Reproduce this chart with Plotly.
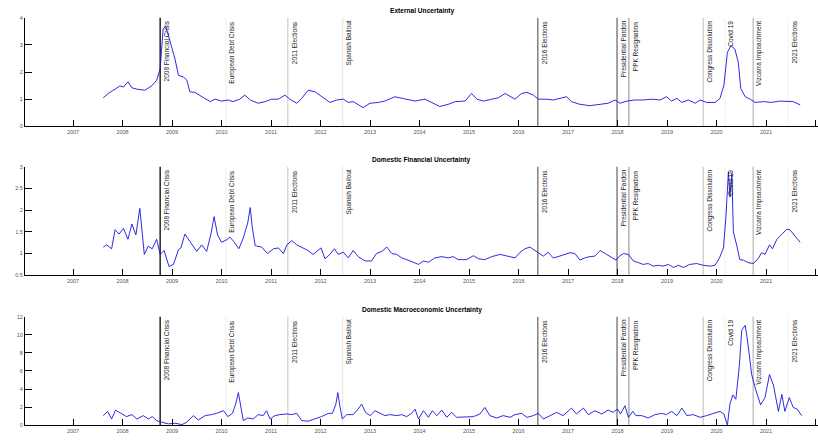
import plotly.graph_objects as go

# ---------------- data ----------------
ext_years = [2007.61, 2007.71, 2007.85, 2007.95, 2008.02, 2008.11, 2008.19, 2008.29, 2008.45, 2008.59,
             2008.69, 2008.76, 2008.82, 2008.87, 2008.93, 2008.99, 2009.06, 2009.13, 2009.23, 2009.30,
             2009.36, 2009.46, 2009.60, 2009.77, 2009.87, 2010.00, 2010.14, 2010.23, 2010.37, 2010.47,
             2010.58, 2010.74, 2010.88, 2011.01, 2011.15, 2011.28, 2011.38, 2011.52, 2011.62, 2011.75,
             2011.89, 2012.02, 2012.19, 2012.33, 2012.46, 2012.56, 2012.66, 2012.86, 2013.00, 2013.17,
             2013.30, 2013.50, 2013.71, 2013.91, 2014.11, 2014.25, 2014.41, 2014.58, 2014.72, 2014.92,
             2015.05, 2015.16, 2015.29, 2015.46, 2015.59, 2015.73, 2015.83, 2015.93, 2016.06, 2016.17,
             2016.30, 2016.40, 2016.57, 2016.70, 2016.84, 2016.97, 2017.07, 2017.24, 2017.44, 2017.65,
             2017.81, 2017.95, 2018.05, 2018.19, 2018.35, 2018.52, 2018.69, 2018.86, 2018.99, 2019.09,
             2019.20, 2019.30, 2019.43, 2019.57, 2019.67, 2019.80, 2019.97, 2020.07, 2020.15, 2020.22,
             2020.29, 2020.37, 2020.44, 2020.49, 2020.58, 2020.68, 2020.78, 2020.95, 2021.11, 2021.28,
             2021.45, 2021.55, 2021.69]
ext_vals = [1.05, 1.21, 1.37, 1.49, 1.45, 1.64, 1.42, 1.37, 1.33, 1.49,
            1.70, 2.12, 3.58, 3.70, 3.33, 2.91, 2.48, 1.88, 1.82, 1.70,
            1.27, 1.25, 1.09, 0.91, 1.00, 0.93, 0.97, 0.91, 1.00, 1.15,
            0.97, 0.85, 0.91, 1.00, 1.00, 1.15, 1.00, 0.85, 1.03, 1.33,
            1.27, 1.09, 0.88, 0.97, 1.00, 0.88, 0.91, 0.69, 0.85, 0.88,
            0.93, 1.09, 1.00, 0.93, 1.00, 0.88, 0.73, 0.81, 0.91, 0.93,
            1.21, 1.00, 0.93, 1.00, 1.05, 1.21, 1.09, 1.00, 1.21, 1.25,
            1.15, 1.00, 1.00, 0.97, 1.03, 1.09, 0.91, 0.81, 0.76, 0.81,
            0.85, 0.97, 0.85, 0.93, 0.97, 0.97, 1.00, 0.97, 1.09, 0.93,
            1.03, 0.88, 0.97, 0.85, 0.97, 0.88, 0.88, 1.03, 1.52, 2.73,
            2.97, 2.85, 2.36, 1.39, 1.09, 1.00, 0.88, 0.91, 0.88, 0.93,
            0.91, 0.91, 0.79]

fin_years = [2007.61, 2007.68, 2007.78, 2007.85, 2007.93, 2008.02, 2008.11, 2008.19, 2008.27, 2008.35,
             2008.44, 2008.52, 2008.60, 2008.69, 2008.76, 2008.84, 2008.94, 2009.03, 2009.13, 2009.18,
             2009.26, 2009.36, 2009.50, 2009.60, 2009.70, 2009.79, 2009.85, 2009.92, 2010.00, 2010.11,
             2010.17, 2010.26, 2010.35, 2010.44, 2010.53, 2010.58, 2010.62, 2010.68, 2010.81, 2010.93,
             2011.05, 2011.15, 2011.25, 2011.32, 2011.42, 2011.52, 2011.65, 2011.75, 2011.85, 2012.01,
             2012.09, 2012.19, 2012.28, 2012.36, 2012.46, 2012.56, 2012.66, 2012.76, 2012.90, 2013.03,
             2013.13, 2013.24, 2013.34, 2013.44, 2013.54, 2013.64, 2013.81, 2013.98, 2014.08, 2014.18,
             2014.31, 2014.45, 2014.58, 2014.68, 2014.78, 2014.95, 2015.09, 2015.19, 2015.32, 2015.46,
             2015.63, 2015.76, 2015.93, 2016.03, 2016.13, 2016.23, 2016.33, 2016.42, 2016.50, 2016.60,
             2016.70, 2016.80, 2016.94, 2017.04, 2017.14, 2017.24, 2017.34, 2017.44, 2017.54, 2017.65,
             2017.75, 2017.85, 2017.97, 2018.05, 2018.12, 2018.22, 2018.32, 2018.42, 2018.52, 2018.62,
             2018.72, 2018.82, 2018.92, 2019.03, 2019.13, 2019.23, 2019.33, 2019.46, 2019.60, 2019.73,
             2019.87, 2019.97, 2020.06, 2020.14, 2020.19, 2020.24, 2020.27, 2020.31, 2020.34, 2020.41,
             2020.47, 2020.54, 2020.64, 2020.74, 2020.84, 2020.91, 2020.98, 2021.07, 2021.13, 2021.22,
             2021.32, 2021.42, 2021.48, 2021.59, 2021.69]
fin_vals = [1.15, 1.20, 1.11, 1.55, 1.45, 1.58, 1.33, 1.68, 1.43, 2.04,
            0.98, 1.17, 1.11, 1.33, 0.98, 1.07, 0.70, 0.75, 1.09, 1.13,
            1.45, 1.28, 1.05, 1.20, 1.05, 1.47, 1.85, 1.43, 1.26, 1.32,
            1.38, 1.26, 1.11, 1.36, 1.71, 2.06, 1.62, 1.18, 1.15, 1.00,
            1.11, 1.13, 1.00, 1.20, 1.30, 1.20, 1.13, 1.07, 0.98, 1.13,
            0.88, 0.98, 1.11, 0.98, 1.03, 0.90, 1.07, 0.93, 0.83, 0.83,
            1.00, 1.05, 1.15, 1.00, 0.98, 0.90, 0.83, 0.75, 0.83, 0.80,
            0.90, 0.93, 0.90, 0.93, 0.86, 0.86, 0.95, 0.88, 0.86, 0.93,
            0.98, 0.95, 0.90, 1.03, 1.11, 1.15, 1.07, 1.00, 0.94, 1.03,
            0.90, 0.93, 0.98, 1.02, 1.00, 0.85, 0.90, 0.93, 0.94, 1.07,
            1.00, 0.93, 0.85, 0.95, 1.00, 0.98, 0.83, 0.79, 0.75, 0.77,
            0.71, 0.73, 0.71, 0.75, 0.68, 0.73, 0.68, 0.75, 0.77, 0.73,
            0.71, 0.73, 0.90, 1.13, 1.85, 2.88, 2.30, 2.85, 1.50, 1.18,
            0.86, 0.85, 0.79, 0.77, 0.88, 1.02, 0.98, 1.20, 1.11, 1.33,
            1.45, 1.56, 1.55, 1.39, 1.26]

mac_years = [2007.61, 2007.70, 2007.78, 2007.86, 2007.97, 2008.08, 2008.19, 2008.29, 2008.42, 2008.52,
             2008.60, 2008.69, 2008.79, 2008.93, 2009.06, 2009.20, 2009.30, 2009.43, 2009.53, 2009.67,
             2009.80, 2009.90, 2010.04, 2010.13, 2010.22, 2010.29, 2010.34, 2010.39, 2010.44, 2010.53,
             2010.64, 2010.74, 2010.84, 2010.91, 2010.98, 2011.08, 2011.18, 2011.32, 2011.42, 2011.52,
             2011.62, 2011.75, 2011.89, 2012.02, 2012.16, 2012.24, 2012.31, 2012.35, 2012.39, 2012.44,
             2012.53, 2012.66, 2012.76, 2012.83, 2012.91, 2013.00, 2013.10, 2013.20, 2013.30, 2013.40,
             2013.54, 2013.64, 2013.74, 2013.84, 2013.91, 2013.98, 2014.08, 2014.18, 2014.26, 2014.35,
             2014.45, 2014.55, 2014.65, 2014.75, 2014.92, 2015.09, 2015.22, 2015.32, 2015.42, 2015.56,
             2015.69, 2015.83, 2015.93, 2016.06, 2016.17, 2016.30, 2016.40, 2016.50, 2016.64, 2016.77,
             2016.90, 2017.07, 2017.17, 2017.31, 2017.41, 2017.54, 2017.68, 2017.81, 2017.91, 2018.00,
             2018.06, 2018.15, 2018.22, 2018.31, 2018.37, 2018.49, 2018.62, 2018.76, 2018.89, 2018.99,
             2019.09, 2019.20, 2019.30, 2019.40, 2019.53, 2019.67, 2019.80, 2019.94, 2020.07, 2020.15,
             2020.22, 2020.27, 2020.33, 2020.39, 2020.46, 2020.51, 2020.58, 2020.63, 2020.71, 2020.80,
             2020.89, 2020.98, 2021.07, 2021.15, 2021.25, 2021.32, 2021.38, 2021.47, 2021.55, 2021.63,
             2021.72]
mac_vals = [1.06, 1.53, 0.69, 1.67, 1.31, 0.95, 1.17, 0.69, 1.06, 0.69,
            0.95, 0.51, 0.33, 0.15, 0.22, 0.07, 0.33, 1.06, 0.58, 1.06,
            1.17, 1.31, 1.60, 0.95, 1.31, 2.40, 3.60, 1.96, 0.51, 0.80,
            0.69, 1.17, 1.06, 1.60, 0.69, 1.06, 1.17, 1.24, 1.17, 1.31,
            0.51, 0.44, 0.69, 0.95, 1.31, 1.31, 2.33, 3.60, 2.15, 0.69,
            1.17, 1.17, 1.78, 2.33, 1.42, 1.06, 1.60, 1.31, 1.06, 1.17,
            1.06, 1.17, 0.95, 1.31, 1.78, 0.69, 1.60, 0.87, 1.60, 1.06,
            1.67, 0.87, 1.42, 0.87, 0.87, 0.95, 1.24, 1.96, 1.06, 0.80,
            1.06, 0.87, 1.17, 1.31, 0.87, 1.06, 1.31, 0.69, 1.06, 1.42,
            1.06, 1.89, 1.24, 1.89, 1.17, 1.60, 1.24, 1.67, 1.42, 1.78,
            1.24, 2.15, 0.87, 1.53, 1.06, 1.06, 0.80, 1.17, 1.31, 1.17,
            1.53, 1.06, 1.89, 1.06, 1.17, 0.87, 1.06, 1.31, 1.53, 1.24,
            0.00, 2.33, 3.35, 2.87, 6.50, 10.50, 11.05, 9.20, 5.60, 3.78,
            2.26, 3.05, 5.60, 4.44, 1.53, 3.41, 1.53, 3.05, 1.96, 1.78,
            1.06]

event_years = [2008.76, 2010.09, 2011.34, 2012.45, 2016.39, 2017.99, 2018.23, 2019.73,
               2020.17, 2020.74, 2021.45]
event_labels = ["2008 Financial Crisis", "European Debt Crisis", "2011 Elections", "Spanish Bailout",
                "2016 Elections", "Presidential Pardon", "PPK Resignation", "Congress Dissolution",
                "Covid 19", "Vizcarra Impeachment", "2021 Elections"]

panel_titles = ["External Uncertainty", "Domestic Financial Uncertainty",
                "Domestic Macroeconomic Uncertainty"]
x_ticks = list(range(2007, 2023))
y_ticks = [[0, 1, 2, 3, 4], [0.5, 1, 1.5, 2, 2.5, 3], [0, 2, 4, 6, 8, 10, 12]]
y_ranges = [[0, 4], [0.5, 3], [0, 12]]

# ---------------- styling ----------------
event_colors = ["#000000", "#eeeeee", "#c4c4c4", "#e2e2e2", "#555555", "#555555",
                "#8a8a8a", "#bdbdbd", "#f0f0f0", "#a8a8a8", "#f2f2f2"]
event_widths = [1.3, 1, 1, 1, 1.1, 1.1, 1, 1, 1, 1, 1]
FONT = "Liberation Sans, Arial, Helvetica, sans-serif"
W, H = 818, 443
# panel pixel bounds (top, bottom)
panel_px = [(15, 125), (166, 276), (318, 428)]
domains = [[1 - b / H, 1 - t / H] for t, b in panel_px]
x_range = [2006.03, 2022.05]

fig = go.Figure()
series = [(ext_years, ext_vals), (fin_years, fin_vals), (mac_years, mac_vals)]
for i, (xs, ys) in enumerate(series):
    n = "" if i == 0 else str(i + 1)
    fig.add_trace(go.Scatter(x=xs, y=ys, mode="lines", xaxis="x" + n, yaxis="y" + n,
                             line=dict(color="#1414e0", width=0.9), showlegend=False,
                             hoverinfo="skip"))

layout = dict(width=W, height=H, margin=dict(l=25, r=0, t=0, b=0),
              paper_bgcolor="white", plot_bgcolor="white", showlegend=False,
              font=dict(family=FONT, color="#222"))
shapes, annotations = [], []
for i in range(3):
    n = "" if i == 0 else str(i + 1)
    ax_x = "xaxis" + n
    ax_y = "yaxis" + n
    layout[ax_x] = dict(domain=[0, 1], range=x_range, anchor="y" + n,
                        tickvals=x_ticks, ticktext=[str(v) for v in x_ticks],
                        ticks="inside", ticklen=6, tickwidth=1, tickcolor="black",
                        showline=True, linecolor="black", linewidth=1,
                        showgrid=False, zeroline=False,
                        tickfont=dict(size=5.5, color="#555", family=FONT))
    layout[ax_y] = dict(domain=domains[i], range=y_ranges[i], anchor="x" + n,
                        tickvals=y_ticks[i], ticktext=[f"{v:g}" for v in y_ticks[i]],
                        ticks="inside", ticklen=7, tickwidth=1, tickcolor="black",
                        showline=True, linecolor="black", linewidth=1,
                        showgrid=False, zeroline=False,
                        tickfont=dict(size=5.5, color="#555", family=FONT))
    xref = "x" + n
    ydom = "y" + n + " domain"
    for yr, lab, col, wd in zip(event_years, event_labels, event_colors, event_widths):
        shapes.append(dict(type="line", xref=xref, yref=ydom, x0=yr, x1=yr, y0=0, y1=1,
                           line=dict(color=col, width=wd), layer="below"))
        annotations.append(dict(x=yr, y=1, xref=xref, yref=ydom, text=lab, showarrow=False,
                                textangle=-90, xanchor="left", yanchor="top", xshift=0.5,
                                yshift=-1, font=dict(size=6.5, color="#222", family=FONT)))
    annotations.append(dict(x=0.5, y=1, xref="x" + n + " domain", yref=ydom,
                            text="<b>" + panel_titles[i] + "</b>", showarrow=False,
                            xanchor="center", yanchor="bottom", yshift=1,
                            font=dict(size=6.6, color="black", family=FONT)))
layout["shapes"] = shapes
layout["annotations"] = annotations
fig.update_layout(**layout)
fig.write_html("out.html", config={"displayModeBar": False},
               post_script="document.body.style.margin='0px';document.body.style.overflow='hidden';")
